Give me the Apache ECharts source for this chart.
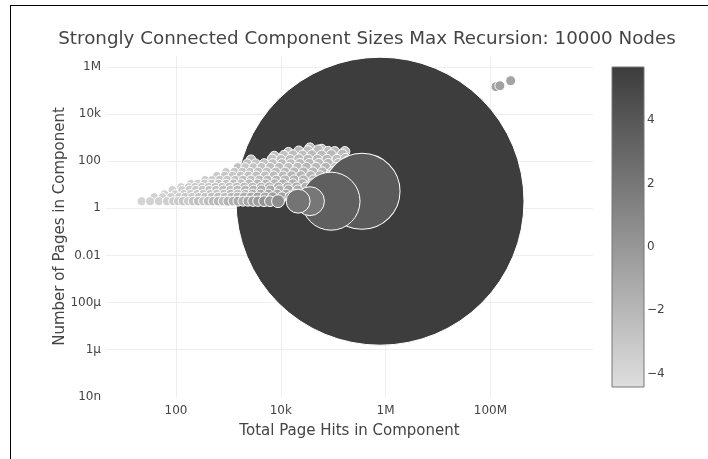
<!DOCTYPE html>
<html>
<head>
<meta charset="utf-8">
<script src="https://cdn.jsdelivr.net/npm/echarts@6/dist/echarts.min.js"></script>
<style>
  html, body { margin: 0; padding: 0; background: #fff; }
  #chart { width: 708px; height: 459px; }
  #frame { position: absolute; left: 10px; top: 5px; right: 0; bottom: 0;
           border-left: 1px solid #000; border-top: 1px solid #000; pointer-events: none; }
</style>
</head>
<body>
<div id="chart"></div>
<div id="frame"></div>
<script>
// each component: [total page hits, pages, nodes, colour value]
const giantComponent = [[782000, 2, 10000, 5.6]];

const outliers = [
  [128000000, 145000, 12, -0.7],
  [152000000, 159000, 12, -0.6],
  [244000000, 260000, 12, -0.8]
];

// the wedge of small components, top rows first so the lower rows sit on top
const smallComponents = [
  [36000, 365, 12, -2.3], [60000, 320, 12, -2.4],
  [14000, 240, 11, -2.4], [22000, 270, 12, -2.2], [33000, 280, 12, -2.5], [52000, 300, 12, -2.3],
  [80000, 260, 12, -2.4], [107000, 255, 12, -2.2], [167000, 255, 12, -2.5],
  [7500, 165, 11, -2.5], [11500, 180, 11, -2.6], [17000, 190, 11, -2.3], [26000, 180, 12, -2.4],
  [39000, 185, 12, -2.2], [60000, 180, 12, -2.3], [92000, 190, 12, -2.1], [150000, 200, 12, -2.3],
  [2700, 115, 11, -2.4], [6800, 125, 11, -2.6], [10000, 120, 11, -2.5], [15000, 120, 11, -2.3],
  [22000, 125, 12, -2.4], [33000, 120, 12, -2.2], [50000, 120, 12, -2.3], [76000, 120, 12, -2.1],
  [118000, 120, 12, -2.4], [170000, 130, 12, -2.2],
  [2300, 80, 10, -2.5], [3300, 80, 10, -2.8], [4800, 80, 11, -2.6], [7000, 80, 11, -2.5],
  [10500, 80, 11, -2.3], [15500, 80, 11, -2.4], [23000, 80, 12, -2.2], [35000, 80, 12, -2.1],
  [53000, 80, 12, -2.3], [80000, 80, 12, -2.0], [125000, 80, 12, -2.2],
  [1500, 55, 10, -2.6], [2100, 55, 10, -2.9], [3000, 55, 10, -2.7], [4300, 55, 11, -2.6],
  [6300, 55, 11, -2.4], [9300, 55, 11, -2.3], [14000, 55, 11, -2.5], [21000, 55, 12, -2.2],
  [31000, 55, 12, -2.0], [47000, 55, 12, -2.1], [72000, 55, 12, -1.9], [110000, 55, 12, -2.2],
  [900, 35, 9, -3.1], [1300, 35, 10, -3.0], [1850, 35, 10, -2.8], [2600, 35, 10, -2.7],
  [3700, 35, 11, -2.5], [5400, 35, 11, -2.6], [8000, 35, 11, -2.3], [12000, 35, 11, -2.2],
  [18000, 35, 12, -2.1], [27000, 35, 12, -1.9], [41000, 35, 12, -2.0], [62000, 35, 12, -1.8],
  [95000, 35, 12, -2.1],
  [600, 24, 9, -3.2], [850, 24, 10, -3.0], [1200, 24, 10, -2.9], [1700, 24, 10, -2.7],
  [2400, 24, 11, -2.6], [3400, 24, 11, -2.4], [5000, 24, 11, -2.5], [7300, 24, 11, -2.2],
  [11000, 24, 11, -2.1], [16000, 24, 12, -2.0], [24000, 24, 12, -1.8], [37000, 24, 12, -1.9],
  [56000, 24, 12, -1.7], [85000, 24, 12, -2.0],
  [360, 16, 9, -3.3], [490, 16, 9, -3.2], [680, 16, 10, -3.0], [950, 16, 10, -2.9],
  [1350, 16, 10, -2.7], [1900, 16, 11, -2.5], [2700, 16, 11, -2.6], [3900, 16, 11, -2.3],
  [5600, 16, 11, -2.1], [8200, 16, 11, -2.0], [12000, 16, 12, -1.9], [18000, 16, 12, -1.7],
  [27000, 16, 12, -1.8], [42000, 16, 12, -1.6], [65000, 16, 12, -1.9],
  [190, 11, 9, -3.4], [260, 11, 9, -3.3], [350, 11, 10, -3.1], [480, 11, 10, -3.0],
  [650, 11, 10, -2.8], [900, 11, 10, -2.7], [1250, 11, 11, -2.4], [1750, 11, 11, -2.6],
  [2500, 11, 11, -2.2], [3600, 11, 11, -2.0], [5200, 11, 11, -1.8], [7600, 11, 12, -1.9],
  [11000, 11, 12, -1.6], [17000, 11, 12, -1.7], [26000, 11, 12, -1.5], [40000, 11, 12, -1.8],
  [125, 8, 9, -3.5], [175, 8, 9, -3.4], [230, 8, 10, -3.2], [310, 8, 10, -3.1],
  [420, 8, 10, -2.9], [560, 8, 10, -2.8], [760, 8, 10, -2.6], [1050, 8, 11, -2.5],
  [1450, 8, 11, -2.3], [2000, 8, 11, -2.1], [2900, 8, 11, -1.9], [4200, 8, 11, -1.7],
  [6000, 8, 12, -1.8], [9000, 8, 12, -1.4], [13500, 8, 12, -1.5], [20000, 8, 12, -1.3],
  [30000, 8, 12, -1.6],
  [85, 6, 9, -3.6], [130, 6, 9, -3.4], [180, 6, 10, -3.3], [240, 6, 10, -3.1],
  [320, 6, 10, -3.0], [430, 6, 10, -2.8], [580, 6, 10, -2.7], [800, 6, 11, -2.5],
  [1100, 6, 11, -2.6], [1500, 6, 11, -2.2], [2100, 6, 11, -2.0], [3000, 6, 11, -1.7],
  [4300, 6, 12, -1.5], [6300, 6, 12, -1.3], [9500, 6, 12, -1.6], [14000, 6, 12, -1.2],
  [21000, 6, 12, -1.4],
  [60, 4, 9, -3.6], [95, 4, 9, -3.5], [140, 4, 10, -3.3], [190, 4, 10, -3.1],
  [250, 4, 10, -3.0], [330, 4, 10, -2.9], [450, 4, 10, -2.7], [600, 4, 11, -2.6],
  [820, 4, 11, -2.4], [1100, 4, 11, -2.2], [1500, 4, 11, -2.3], [2100, 4, 11, -1.8],
  [2900, 4, 12, -1.5], [4100, 4, 12, -1.2], [5800, 4, 12, -1.0], [8500, 4, 12, -1.3],
  [12500, 4, 12, -0.9], [18000, 4, 12, -1.1],
  [38, 3, 9, -3.7], [55, 3, 9, -3.6], [80, 3, 10, -3.4], [115, 3, 10, -3.2],
  [150, 3, 10, -3.0], [200, 3, 10, -3.1], [270, 3, 10, -2.8], [360, 3, 10, -2.7],
  [480, 3, 11, -2.5], [640, 3, 11, -2.3], [850, 3, 11, -2.6], [1150, 3, 11, -2.0],
  [1500, 3, 11, -1.9], [2000, 3, 12, -1.4], [2700, 3, 12, -1.1], [3600, 3, 12, -0.7],
  [5000, 3, 12, -0.9], [7000, 3, 13, -0.4], [10500, 3, 13, -0.6], [15000, 3, 13, -0.8],
  [22, 2, 10, -3.8], [32, 2, 10, -3.7], [47, 2, 10, -3.6], [67, 2, 10, -3.5],
  [88, 2, 10, -3.3], [109, 2, 10, -3.2], [136, 2, 11, -3.0], [169, 2, 10, -3.3],
  [211, 2, 11, -2.8], [263, 2, 11, -2.6], [328, 2, 10, -2.9], [408, 2, 11, -2.4],
  [508, 2, 11, -2.2], [632, 2, 11, -2.0], [787, 2, 11, -2.3], [980, 2, 12, -1.8],
  [1220, 2, 11, -1.5], [1520, 2, 12, -1.2], [1890, 2, 12, -1.6], [2360, 2, 12, -0.9],
  [2940, 2, 13, -0.6], [3660, 2, 13, -0.3], [4780, 2, 14, 0.2], [6200, 2, 14, -0.1],
  [8840, 2, 20, 0.6]
];

const mediumComponents = [
  [355000, 5.3, 696, 3.8],
  [90800, 2, 406, 3.5],
  [36000, 2, 101, 2.0],
  [21400, 2, 69, 2.2]
];

const xTickVals = [100, 1e4, 1e6, 1e8];
const xTickText = ['100', '10k', '1M', '100M'];
const yTickVals = [1e-8, 1e-6, 1e-4, 0.01, 1, 100, 1e4, 1e6];
const yTickText = ['10n', '1μ', '100μ', '0.01', '1', '100', '10k', '1M'];
const colorRange = [-4.42, 5.68];
const colorTicks = [-4, -2, 0, 2, 4];
const greys = ['#dedede', '#3c3c3c'];

const allComponents = giantComponent.concat(outliers, smallComponents, mediumComponents);

function tickLabel(vals, texts) {
  return (v) => {
    const i = vals.findIndex((t) => Math.abs(Math.log10(t) - Math.log10(v)) < 1e-6);
    return i < 0 ? '' : texts[i];
  };
}

const font = '"DejaVu Sans", Verdana, sans-serif';
const chart = echarts.init(document.getElementById('chart'));

chart.setOption({
  animation: false,
  textStyle: { fontFamily: font },
  title: {
    text: 'Strongly Connected Component Sizes Max Recursion: 10000 Nodes',
    left: 362,
    textAlign: 'center',
    top: 25,
    textStyle: { fontFamily: font, fontSize: 18.3, fontWeight: 'normal', color: '#444' }
  },
  grid: [
    { left: 106, right: 115, top: 56, bottom: 62 },
    { left: 612, width: 32, top: 67, height: 320 }
  ],
  xAxis: [
    {
      type: 'log',
      gridIndex: 0,
      min: 4.6,
      max: 9.1e9,
      name: 'Total Page Hits in Component',
      nameLocation: 'middle',
      nameGap: 27,
      nameTextStyle: { fontFamily: font, fontSize: 15, color: '#444' },
      axisLine: { show: false },
      axisTick: { show: false, customValues: xTickVals },
      axisLabel: {
        customValues: xTickVals,
        formatter: tickLabel(xTickVals, xTickText),
        fontFamily: font, fontSize: 12, color: '#444', margin: 8
      },
      splitLine: { show: true, lineStyle: { color: '#eee', width: 1 } }
    },
    { type: 'value', gridIndex: 1, min: 0, max: 1, show: false }
  ],
  yAxis: [
    {
      type: 'log',
      gridIndex: 0,
      min: 9.8e-9,
      max: 2.9e6,
      name: 'Number of Pages in Component',
      nameLocation: 'middle',
      nameGap: 38,
      nameMoveOverlap: false,
      nameTextStyle: { fontFamily: font, fontSize: 15, color: '#444' },
      axisLine: { show: false },
      axisTick: { show: false, customValues: yTickVals.slice(1) },
      axisLabel: {
        customValues: yTickVals,
        formatter: tickLabel(yTickVals, yTickText),
        fontFamily: font, fontSize: 12, color: '#444', margin: 5
      },
      splitLine: { show: true, lineStyle: { color: '#eee', width: 1 } }
    },
    {
      type: 'value',
      gridIndex: 1,
      position: 'right',
      min: colorRange[0],
      max: colorRange[1],
      axisLine: { show: false },
      axisTick: { show: true, length: 2, customValues: colorTicks, lineStyle: { color: '#444' } },
      axisLabel: {
        customValues: colorTicks,
        formatter: (v) => (v < 0 ? '\u2212' + Math.abs(v) : String(v)),
        fontFamily: font, fontSize: 12, color: '#444', margin: 3
      },
      splitLine: { show: false }
    }
  ],
  visualMap: {
    show: false,
    seriesIndex: 0,
    dimension: 3,
    min: colorRange[0],
    max: colorRange[1],
    inRange: { color: greys }
  },
  series: [
    {
      type: 'scatter',
      xAxisIndex: 0,
      yAxisIndex: 0,
      data: allComponents,
      clip: false,
      symbolSize: (d) => 2.88 * Math.sqrt(d[2]),
      itemStyle: { borderColor: '#fff', borderWidth: 1, opacity: 1 },
      emphasis: { disabled: true }
    },
    {
      type: 'custom',
      xAxisIndex: 1,
      yAxisIndex: 1,
      data: [[0, colorRange[0], colorRange[1]]],
      renderItem: (params, api) => {
        const p0 = api.coord([0, api.value(2)]);
        const p1 = api.coord([1, api.value(1)]);
        return {
          type: 'rect',
          shape: { x: p0[0], y: p0[1], width: p1[0] - p0[0], height: p1[1] - p0[1] },
          style: {
            fill: new echarts.graphic.LinearGradient(0, 0, 0, 1, [
              { offset: 0, color: greys[1] },
              { offset: 1, color: greys[0] }
            ]),
            stroke: '#777',
            lineWidth: 1
          }
        };
      }
    }
  ]
});
</script>
</body>
</html>
